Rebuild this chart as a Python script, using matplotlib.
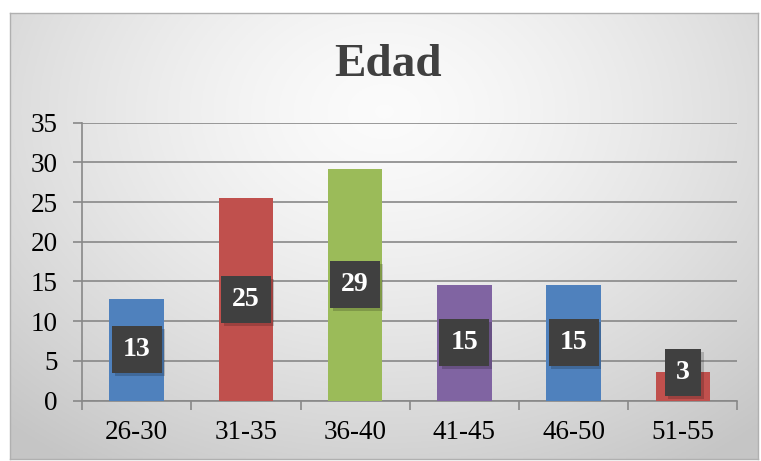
import numpy as np
import matplotlib
matplotlib.use("Agg")
import matplotlib.pyplot as plt
import matplotlib.patheffects as pe

categories = ["26-30", "31-35", "36-40", "41-45", "46-50", "51-55"]
heights = [12.8, 25.5, 29.2, 14.6, 14.6, 3.6]
labels = ["13", "25", "29", "15", "15", "3"]
colors = ["#4F81BD", "#C0504D", "#9BBB59", "#8064A2", "#4F81BD", "#C0504D"]

plt.rcParams["font.family"] = ["Liberation Serif", "DejaVu Serif"]

fig = plt.figure(figsize=(7.61, 4.61), dpi=100)
fig.patch.set_facecolor("white")

# chart area with radial gradient background
bg = fig.add_axes([0.013, 0.004, 0.983, 0.967])
ny, nx = 200, 330
yy, xx = np.mgrid[0:1:ny * 1j, 0:1:nx * 1j]
d = np.sqrt(((xx - 0.5) / 0.75) ** 2 + ((yy - 0.22) / 0.95) ** 2)
d = np.clip(d, 0, 1)
shade = 0.985 - 0.21 * d ** 1.4
img = np.dstack([shade, shade, shade])
bg.imshow(img, extent=[0, 1, 0, 1], origin="upper", aspect="auto")
bg.set_xlim(0, 1)
bg.set_ylim(0, 1)
bg.set_xticks([])
bg.set_yticks([])
for s in bg.spines.values():
    s.set_color("#b0b0b0")
    s.set_linewidth(1.0)

ax = fig.add_axes([0.108, 0.131, 0.861, 0.603])
ax.patch.set_alpha(0)
x = np.arange(len(categories))
ax.bar(x, heights, width=0.5, color=colors, zorder=3)

ax.set_xlim(-0.5, len(categories) - 0.5)
ax.set_ylim(0, 35)
ax.set_yticks(range(0, 36, 5))
ax.yaxis.grid(True, color="#888888", linewidth=1.2, zorder=0)
ax.set_axisbelow(True)

ax.set_xticks(x)
ax.set_xticklabels(categories)
ax.set_xticks(np.arange(-0.5, len(categories), 1), minor=True)
ax.tick_params(axis="x", which="major", length=0, pad=14, labelsize=19.5)
ax.tick_params(axis="x", which="minor", length=6.5, width=1.2, color="#888888", direction="out")
ax.tick_params(axis="y", length=6.5, width=1.2, color="#888888", pad=11, labelsize=19.5)

for side in ["top", "right"]:
    ax.spines[side].set_visible(False)
for side in ["left", "bottom"]:
    ax.spines[side].set_color("#888888")
    ax.spines[side].set_linewidth(1.2)

for xi, h, lab in zip(x, heights, labels):
    yv = max(h / 2, 3.5)
    t = ax.text(xi, yv, lab, ha="center", va="center", color="white",
                fontsize=20, fontweight="bold", zorder=5,
                bbox=dict(boxstyle="square,pad=0.4", facecolor="#404040",
                          edgecolor="none"))
    t.get_bbox_patch().set_path_effects([
        pe.SimplePatchShadow(offset=(2, -2), alpha=0.18, shadow_rgbFace="black"),
        pe.Normal()])

fig.text(0.51, 0.86, "Edad", ha="center", va="center", fontsize=34,
         fontweight="bold", color="#404040")

fig.savefig("out.png", dpi=100)
